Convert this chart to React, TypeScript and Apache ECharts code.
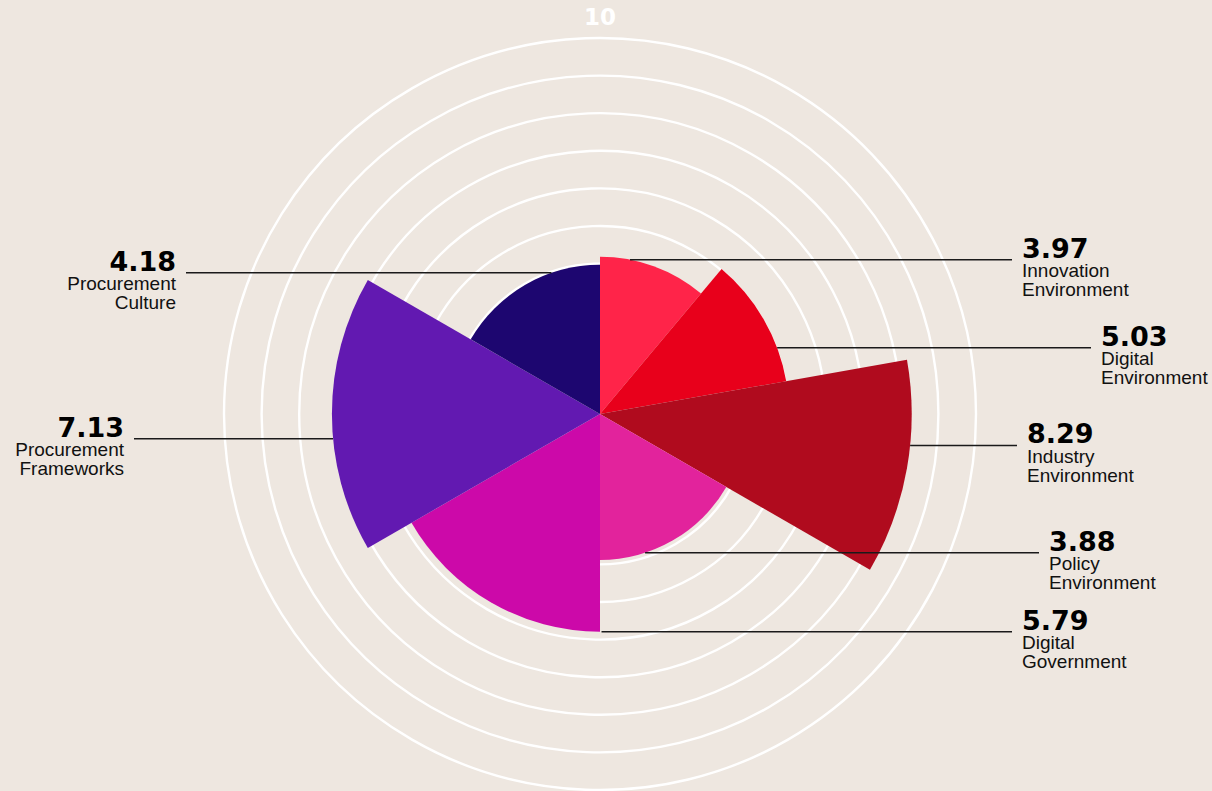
import React, { useEffect, useRef } from "react";
import * as echarts from "echarts";

// ---- data ----
const categories = [
  "Innovation\nEnvironment",
  "Digital\nEnvironment",
  "Industry\nEnvironment",
  "Policy\nEnvironment",
  "Digital\nGovernment",
  "Procurement\nFrameworks",
  "Procurement\nCulture",
];
// scores printed in the labels
const scores = [3.97, 5.03, 8.29, 3.88, 5.79, 7.13, 4.18];
// radius of each sector as drawn in the picture
const sectorValues = [4.18, 5.03, 8.29, 3.88, 5.79, 7.13, 3.97];
// angular width (degrees) of each sector, clockwise from 12 o'clock
const angleSpans = [40, 40, 40, 60, 60, 60, 60];
const scaleMax = 10;
const scaleStep = 1;

// ---- style / layout ----
const colors = ["#FF2449", "#E8001B", "#B00B1E", "#E2239C", "#CC09A9", "#6219B1", "#1D0670"];
const anchorAngles = [11, 69.5, 95.8, 162, 179.6, 264.7, 341];
const labelX = [1022, 1101, 1027, 1049, 1022, 124, 176];
const BG = "#EEE7E0";

function buildData() {
  let acc = 0;
  return sectorValues.map((v, i) => {
    const start = acc;
    acc += angleSpans[i];
    return [v, start, acc, anchorAngles[i], i];
  });
}

export default function App() {
  const ref = useRef<HTMLDivElement>(null);
  useEffect(() => {
    if (!ref.current) return;
    const chart = echarts.init(ref.current, undefined, { renderer: "svg" });
    const renderItem = (params: any, api: any) => {
      const i = api.value(4);
      const v = api.value(0);
      const s = api.value(1);
      const e = api.value(2);
      const anc = api.value(3);
      const c = api.coord([0, 0]);
      const ps = api.coord([v, s]);
      const pe = api.coord([v, e]);
      const r = Math.hypot(ps[0] - c[0], ps[1] - c[1]);
      let a0 = Math.atan2(ps[1] - c[1], ps[0] - c[0]);
      let a1 = Math.atan2(pe[1] - c[1], pe[0] - c[0]);
      while (a1 <= a0) a1 += Math.PI * 2;
      const pa = api.coord([v, anc]);
      const right = anc <= 180;
      const lx = labelX[i];
      const ly = pa[1];
      const lineX1 = right ? pa[0] : lx + 10;
      const lineX2 = right ? lx - 10 : pa[0];
      const align = right ? "left" : "right";
      const names = categories[i].split("\n");
      const richText =
        "{v|" + scores[i].toFixed(2) + "}\n" + names.map((n) => "{n|" + n + "}").join("\n");
      const children: any[] = [
        {
          type: "sector",
          shape: { cx: c[0], cy: c[1], r0: 0, r, startAngle: a0, endAngle: a1, clockwise: true },
          style: { fill: colors[i] },
          z2: 1,
        },
        {
          type: "line",
          shape: { x1: lineX1, y1: ly, x2: lineX2, y2: ly },
          style: { stroke: "#1a1a1a", lineWidth: 1.5 },
          z2: 10,
        },
        {
          type: "text",
          x: lx,
          y: ly - 24.5,
          style: {
            text: richText,
            align,
            verticalAlign: "top",
            rich: {
              v: {
                fill: "#000",
                fontFamily: "DejaVu Sans",
                fontWeight: "bold",
                fontSize: 27,
                lineHeight: 26,
                align,
              },
              n: {
                fill: "#111",
                fontFamily: "Liberation Sans",
                fontSize: 19,
                lineHeight: 19,
                align,
              },
            },
          },
          z2: 10,
        },
      ];
      return { type: "group", children };
    };
    chart.setOption({
      animation: false,
      backgroundColor: BG,
      polar: { center: [600, 414], radius: 376 },
      angleAxis: {
        type: "value",
        min: 0,
        max: 360,
        startAngle: 90,
        clockwise: true,
        axisLine: { show: false },
        axisTick: { show: false },
        axisLabel: { show: false },
        splitLine: { show: false },
      },
      radiusAxis: {
        type: "value",
        min: 0,
        max: scaleMax,
        interval: scaleStep,
        axisLine: { show: false },
        axisTick: { show: false },
        axisLabel: { show: false },
        splitLine: { show: true, lineStyle: { color: "#ffffff", width: 2.4 } },
        name: String(scaleMax),
        nameLocation: "end",
        nameGap: 10,
        nameTextStyle: { color: "#ffffff", fontSize: 23, fontWeight: "bold", fontFamily: "DejaVu Sans" },
      },
      series: [
        {
          type: "custom",
          coordinateSystem: "polar",
          renderItem,
          data: buildData(),
          silent: true,
        },
      ],
    });
    return () => chart.dispose();
  }, []);
  return (
    <div
      ref={ref}
      style={{ position: "absolute", left: 0, top: 0, width: 1212, height: 791, background: BG }}
    />
  );
}
